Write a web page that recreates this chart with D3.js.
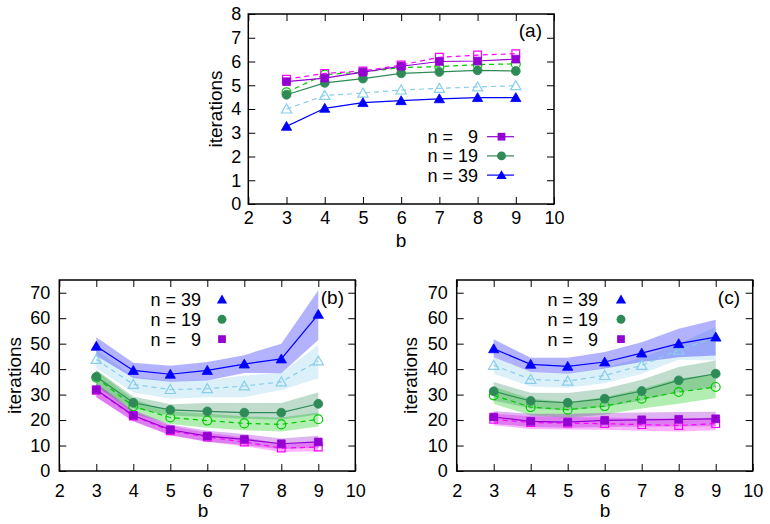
<!DOCTYPE html>
<html>
<head>
<meta charset="utf-8">
<script src="https://cdn.jsdelivr.net/npm/d3@7"></script>
<style>
  body { margin: 0; background: #fff; }
  text { font-family: "Liberation Sans", Arial, sans-serif; fill: #000; }
</style>
</head>
<body>
<div id="vis"></div>
<script>
// b values shared by every panel
const bVals = [3, 4, 5, 6, 7, 8, 9]

// panel (a): solid = filled markers, dashed = open markers
const aN9   = [5.15, 5.30, 5.55, 5.80, 6.00, 6.02, 6.10]
const aN9d  = [5.25, 5.50, 5.60, 5.85, 6.18, 6.27, 6.33]
const aN19  = [4.60, 5.10, 5.28, 5.50, 5.56, 5.63, 5.60]
const aN19d = [4.70, 5.45, 5.55, 5.75, 5.78, 5.87, 5.90]
const aN39  = [3.27, 4.03, 4.27, 4.35, 4.43, 4.48, 4.48]
const aN39d = [4.00, 4.57, 4.67, 4.80, 4.87, 4.93, 4.98]

// panel (b)
const bN39    = [49, 39.5, 38, 39.5, 42, 44, 61.5]
const bN39Lo  = [45.3, 36.5, 35, 35.5, 38.5, 38.4, 51.4]
const bN39Hi  = [52.5, 42.5, 41.3, 42.8, 45.5, 50, 71]
const bN39d   = [43.8, 34, 32, 32.3, 33.4, 35, 43.2]
const bN39dLo = [40.3, 30.8, 28.4, 29, 29, 31.8, 36.4]
const bN39dHi = [47.4, 37, 35.3, 35.6, 37.5, 38.5, 49.5]
const bN19    = [37, 26.8, 24, 23.4, 22.9, 22.9, 26.4]
const bN19Lo  = [33, 24.5, 21.8, 21.2, 20.5, 20.1, 22.2]
const bN19Hi  = [39.8, 29.3, 26.2, 26.7, 26.7, 26.7, 30.9]
const bN19d   = [36.6, 25.4, 21, 19.8, 18.7, 18.3, 20.3]
const bN19dLo = [33.5, 22.5, 18.5, 17, 16, 15.5, 17.5]
const bN19dHi = [39.5, 28.2, 23.5, 22.5, 21.5, 21, 23]
const bN9     = [31.9, 21.8, 16.2, 13.7, 12.4, 10.7, 11.4]
const bN9Lo   = [29, 19.5, 14, 11.5, 10.2, 8.5, 9.2]
const bN9Hi   = [34.5, 24, 18.3, 15.8, 14.5, 12.8, 13.8]
const bN9d    = [31.7, 21.6, 15.8, 13.3, 11.4, 9, 9.4]
const bN9dLo  = [29, 19.5, 14, 11.5, 9.7, 7.5, 7.8]
const bN9dHi  = [34, 23.5, 17.8, 15, 13.2, 10.8, 11.2]

// panel (c)
const cN39    = [48, 41.9, 41.1, 42.8, 46.3, 50, 52.6]
const cN39Lo  = [44.7, 38.9, 38.2, 40.2, 42.8, 44.7, 45.4]
const cN39Hi  = [51.7, 44.5, 44.5, 46.7, 50.6, 55.9, 59.4]
const cN39d   = [41.5, 36, 35.3, 37.5, 41.5, 47.4, 52.6]
const cN39dLo = [38.2, 33.2, 32.7, 34.5, 38.2, 43.7, 43.4]
const cN39dHi = [44.7, 38.9, 38.2, 40.6, 44.5, 50, 56.5]
const cN19    = [31.3, 27.5, 26.8, 28.4, 31.4, 35.6, 38.2]
const cN19Lo  = [27.7, 24.5, 23.8, 25.1, 27.7, 31, 33]
const cN19Hi  = [34.9, 30.7, 30.6, 32.3, 35.8, 40.8, 43.4]
const cN19d   = [29.7, 25.1, 24.1, 25.5, 28.4, 31, 33]
const cN19dLo = [26.4, 21.8, 20.9, 22.2, 24.5, 26.4, 28.7]
const cN19dHi = [33, 28.4, 27.1, 29, 32.3, 36.3, 38.2]
const cN9     = [21.2, 19.5, 19.2, 19.9, 20.1, 20.3, 20.5]
const cN9Lo   = [18.5, 17.3, 17, 17.3, 17.5, 17.5, 17.6]
const cN9Hi   = [23.5, 22.5, 22.5, 22.8, 23, 23.2, 23.3]
const cN9d    = [20.3, 19, 18.8, 18.6, 18.2, 17.9, 18.6]
const cN9dLo  = [18, 16.5, 16.3, 16.2, 15.8, 15.5, 16]
const cN9dHi  = [22.5, 21.5, 21.2, 21, 20.7, 20.5, 21]

const xTicks = [2, 3, 4, 5, 6, 7, 8, 9, 10]
const yTicksA = [0, 1, 2, 3, 4, 5, 6, 7, 8]
const yTicksBC = [0, 10, 20, 30, 40, 50, 60, 70]
const legendLabels = ['n =   9', 'n = 19', 'n = 39']

const col = {
    n9: '#9400d3', n9d: '#ff00ff',
    n19: '#2e8b57', n19d: '#00c800',
    n39: '#0000ff', n39d: '#87ceeb'
}
const shapes = {n9: d3.symbolSquare, n19: d3.symbolCircle, n39: d3.symbolTriangle}
const shapeSize = {n9: 60, n19: 62, n39: 46}

const svg = d3.select('#vis').append('svg')
    .attr('width', 770).attr('height', 524)

function makePanel(p){
    const x = d3.scaleLinear([2, 10], [p.left, p.right])
    const y = d3.scaleLinear(p.yDomain, [p.bottom, p.top])
    const g = svg.append('g')

    // ticks inside, mirrored on every side
    g.append('g').attr('transform', `translate(${p.left},0)`)
        .call(d3.axisLeft(y).tickValues(p.yTicks).tickSize(-7).tickPadding(p.yPad))
        .call(s => s.select('.domain').remove())
    g.append('g').attr('transform', `translate(${p.right},0)`)
        .call(d3.axisRight(y).tickValues(p.yTicks).tickSize(-7).tickFormat(''))
        .call(s => s.select('.domain').remove())
    g.append('g').attr('transform', `translate(0,${p.bottom})`)
        .call(d3.axisBottom(x).tickValues(xTicks).tickSize(-7).tickPadding(p.xPad))
        .call(s => s.select('.domain').remove())
    g.append('g').attr('transform', `translate(0,${p.top})`)
        .call(d3.axisTop(x).tickValues(xTicks).tickSize(-7).tickFormat(''))
        .call(s => s.select('.domain').remove())
    g.selectAll('.tick line').attr('stroke', '#000').attr('stroke-width', 1)
    g.selectAll('.tick text').attr('font-size', p.fs)
        .attr('font-family', '"Liberation Sans", Arial, sans-serif').attr('fill', '#000')

    g.append('rect')
        .attr('x', p.left).attr('y', p.top)
        .attr('width', p.right - p.left).attr('height', p.bottom - p.top)
        .attr('fill', 'none').attr('stroke', '#000').attr('stroke-width', 1.5)

    // axis titles
    g.append('text')
        .attr('transform', `translate(${p.ylabX},${(p.top + p.bottom) / 2}) rotate(-90)`)
        .attr('text-anchor', 'middle').attr('font-size', p.fs + 1)
        .text('iterations')
    g.append('text')
        .attr('x', p.xlabX).attr('y', p.xlabY)
        .attr('text-anchor', 'middle').attr('font-size', p.fs + 1)
        .text('b')
    g.append('text')
        .attr('x', p.tagX).attr('y', p.tagY)
        .attr('text-anchor', 'end').attr('font-size', p.fs + 1)
        .text(p.tag)

    const plot = g.append('g')
    const area = d3.area().x((d, i) => x(bVals[i])).y0(d => y(d[0])).y1(d => y(d[1]))
    const line = d3.line().x((d, i) => x(bVals[i])).y(d => y(d))

    p.series.forEach(s => {
        if (s.lo) {
            plot.append('path')
                .datum(s.lo.map((v, i) => [v, s.hi[i]]))
                .attr('d', area)
                .attr('fill', s.color).attr('fill-opacity', s.bandOp || 0.3)
                .attr('stroke', 'none')
        }
    })
    p.series.forEach(s => {
        plot.append('path')
            .datum(s.values)
            .attr('d', line)
            .attr('fill', 'none').attr('stroke', s.color).attr('stroke-width', 1.2)
            .attr('stroke-dasharray', s.dashed ? '5,4' : null)
        plot.selectAll(null)
            .data(s.values).enter()
            .append('path')
            .attr('transform', (d, i) => `translate(${x(bVals[i])},${y(d) + (s.shape === 'n39' ? 1 : 0)})`)
            .attr('d', d3.symbol().type(shapes[s.shape]).size(shapeSize[s.shape]))
            .attr('fill', s.dashed ? 'none' : s.color)
            .attr('stroke', s.color).attr('stroke-width', s.dashed ? 1.2 : 0.8)
    })
    return {x, y, g}
}

// panel (a)
makePanel({
    left: 248.3, right: 554, top: 14, bottom: 204, yDomain: [0, 8],
    yTicks: yTicksA, yPad: 7, xPad: 7, fs: 18,
    ylabX: 221.5, xlabX: 401, xlabY: 247, tagX: 542, tagY: 36.5, tag: '(a)',
    series: [
        {values: aN39d, color: col.n39d, shape: 'n39', dashed: true},
        {values: aN39, color: col.n39, shape: 'n39'},
        {values: aN19d, color: col.n19d, shape: 'n19', dashed: true},
        {values: aN19, color: col.n19, shape: 'n19'},
        {values: aN9d, color: col.n9d, shape: 'n9', dashed: true},
        {values: aN9, color: col.n9, shape: 'n9'}
    ]
})

// legend (a): line + marker samples
const legA = svg.append('g')
const legAKeys = ['n9', 'n19', 'n39']
legAKeys.forEach((k, i) => {
    const yy = 136.7 + i * 19.2
    legA.append('text').attr('x', 478).attr('y', yy + 6.5)
        .attr('text-anchor', 'end').attr('font-size', 18)
        .style('white-space', 'pre').text(legendLabels[i])
    legA.append('line').attr('x1', 487).attr('x2', 514).attr('y1', yy).attr('y2', yy)
        .attr('stroke', col[k]).attr('stroke-width', 1.2)
    legA.append('path').attr('transform', `translate(501.5,${yy + (k === 'n39' ? 1 : 0)})`)
        .attr('d', d3.symbol().type(shapes[k]).size(shapeSize[k]))
        .attr('fill', col[k])
})

const panelBC = (left, right, ylabX, xlabX, tagX, tag, s) => makePanel({
    left: left, right: right, top: 280, bottom: 471, yDomain: [0, 75],
    yTicks: yTicksBC, yPad: 9, xPad: 13, fs: 18,
    ylabX: ylabX, xlabX: xlabX, xlabY: 516.5, tagX: tagX, tagY: 304, tag: tag,
    series: s
})

panelBC(59.3, 355.3, 20.5, 203, 344, '(b)', [
    {values: bN39d, lo: bN39dLo, hi: bN39dHi, color: col.n39d, shape: 'n39', dashed: true},
    {values: bN39, lo: bN39Lo, hi: bN39Hi, color: col.n39, shape: 'n39'},
    {values: bN19d, lo: bN19dLo, hi: bN19dHi, color: col.n19d, shape: 'n19', dashed: true},
    {values: bN19, lo: bN19Lo, hi: bN19Hi, color: col.n19, shape: 'n19'},
    {values: bN9d, lo: bN9dLo, hi: bN9dHi, color: col.n9d, shape: 'n9', dashed: true},
    {values: bN9, lo: bN9Lo, hi: bN9Hi, color: col.n9, shape: 'n9'}
])

panelBC(456.7, 752.7, 417, 605, 740, '(c)', [
    {values: cN39d, lo: cN39dLo, hi: cN39dHi, color: col.n39d, shape: 'n39', dashed: true},
    {values: cN39, lo: cN39Lo, hi: cN39Hi, color: col.n39, shape: 'n39'},
    {values: cN19d, lo: cN19dLo, hi: cN19dHi, color: col.n19d, shape: 'n19', dashed: true},
    {values: cN19, lo: cN19Lo, hi: cN19Hi, color: col.n19, shape: 'n19'},
    {values: cN9d, lo: cN9dLo, hi: cN9dHi, color: col.n9d, shape: 'n9', dashed: true},
    {values: cN9, lo: cN9Lo, hi: cN9Hi, color: col.n9, shape: 'n9'}
])

// legends (b) and (c): markers only, n = 39 on top
function markerLegend(textX, markX){
    const g = svg.append('g')
    const keys = ['n39', 'n19', 'n9']
    const labels = [legendLabels[2], legendLabels[1], legendLabels[0]]
    keys.forEach((k, i) => {
        const yy = 299.5 + i * 19.8
        g.append('text').attr('x', textX).attr('y', yy + 6.5)
            .attr('text-anchor', 'end').attr('font-size', 18)
            .style('white-space', 'pre').text(labels[i])
        g.append('path').attr('transform', `translate(${markX},${yy + (k === 'n39' ? 1 : 0)})`)
            .attr('d', d3.symbol().type(shapes[k]).size(shapeSize[k]))
            .attr('fill', col[k])
    })
}
markerLegend(201, 222)
markerLegend(598, 621)
</script>
</body>
</html>
